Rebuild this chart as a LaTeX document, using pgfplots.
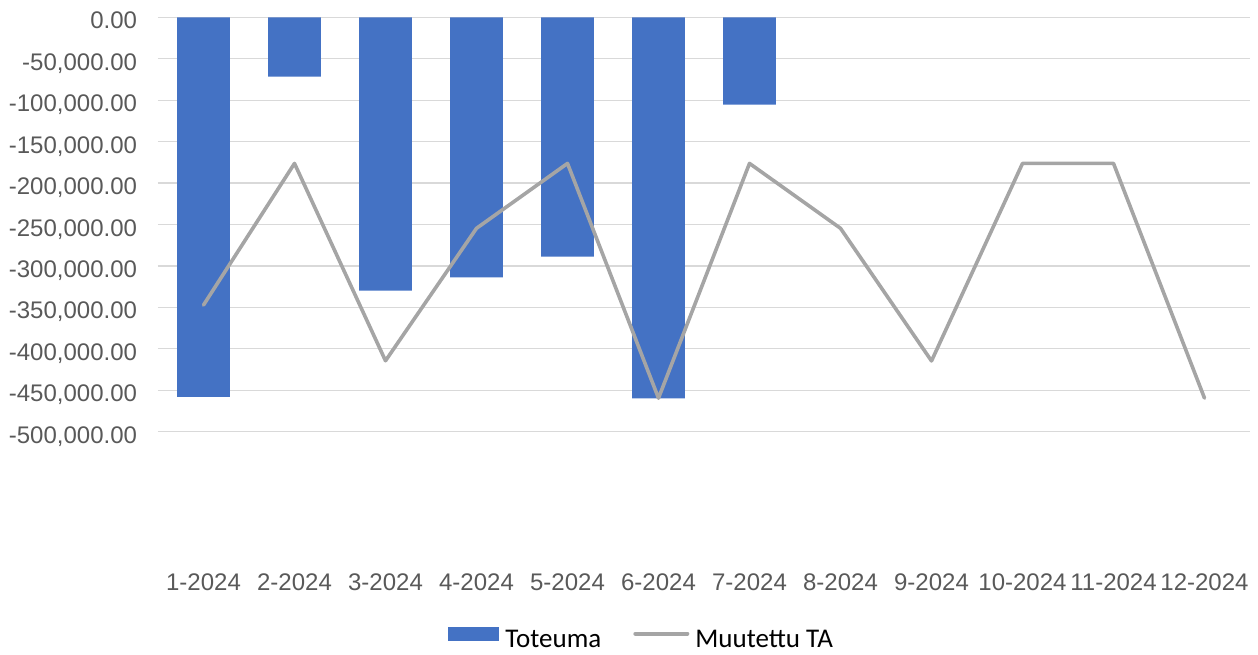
\documentclass[border=0pt]{standalone}
\usepackage{fontspec}
\setmainfont{Liberation Sans}
\newfontfamily\carlito{Carlito}
\usepackage{pgfplots}
\pgfplotsset{compat=1.18}
\definecolor{barblue}{HTML}{4472C4}
\definecolor{linegray}{HTML}{A5A5A5}
\definecolor{gridgray}{HTML}{D9D9D9}
\definecolor{ticktext}{HTML}{595959}

\begin{document}
\begin{tikzpicture}
\useasboundingbox (-79pt,-111.15pt) rectangle (550pt,215.85pt);
\begin{axis}[
  at={(0,0)}, anchor=south west,
  scale only axis, width=546pt, height=207.2pt,
  xmin=-0.5, xmax=11.5, ymin=-500000, ymax=0,
  xtick={0,...,11},
  xticklabels={1-2024,2-2024,3-2024,4-2024,5-2024,6-2024,7-2024,8-2024,9-2024,10-2024,11-2024,12-2024},
  ytick={-500000,-450000,-400000,-350000,-300000,-250000,-200000,-150000,-100000,-50000,0},
  scaled y ticks=false,
  ymajorgrids, grid style={gridgray, line width=0.65pt},
  axis line style={draw=none},
  major tick length=0pt,
  tick label style={font=\fontsize{12}{14}\selectfont, text=ticktext},
  yticklabel style={anchor=base east, inner sep=0pt, xshift=-10.3pt, yshift=-5.8pt,
    /pgf/number format/.cd, fixed, fixed zerofill, precision=2, 1000 sep={,}, assume math mode=true},
  xticklabel style={anchor=base, inner sep=0pt, yshift=-79.2pt},
  legend style={at={(0.4445,-0.499)}, anchor=center, draw=none, fill=none,
    legend columns=-1, font=\carlito\fontsize{13.5}{15}\selectfont, text=black,
    inner sep=0pt, nodes={inner xsep=3pt, inner ysep=0pt},
    /tikz/every even column/.append style={column sep=13pt}},
]
\addplot[ybar, bar width=26.35pt, bar shift=0pt, fill=barblue, draw=none,
  legend image code/.code={\fill[barblue] (0pt,-0.15pt) rectangle (25.8pt,6.85pt);}]
  coordinates {(0,-457900) (1,-71700) (2,-329900) (3,-313800) (4,-288900) (5,-459800) (6,-105500)};
\addlegendentry{Toteuma}
\addplot[linegray, line width=1.8pt, line join=round, line cap=round, mark=none,
  legend image code/.code={\draw[linegray, line width=2pt, line cap=round] (1pt,3.35pt) -- (27pt,3.35pt);}]
  coordinates {(0,-347200) (1,-176300) (2,-414400) (3,-254600) (4,-176300) (5,-459500)
               (6,-176300) (7,-254600) (8,-414600) (9,-176300) (10,-176300) (11,-459500)};
\addlegendentry{Muutettu TA}
\end{axis}
\end{tikzpicture}
\end{document}
